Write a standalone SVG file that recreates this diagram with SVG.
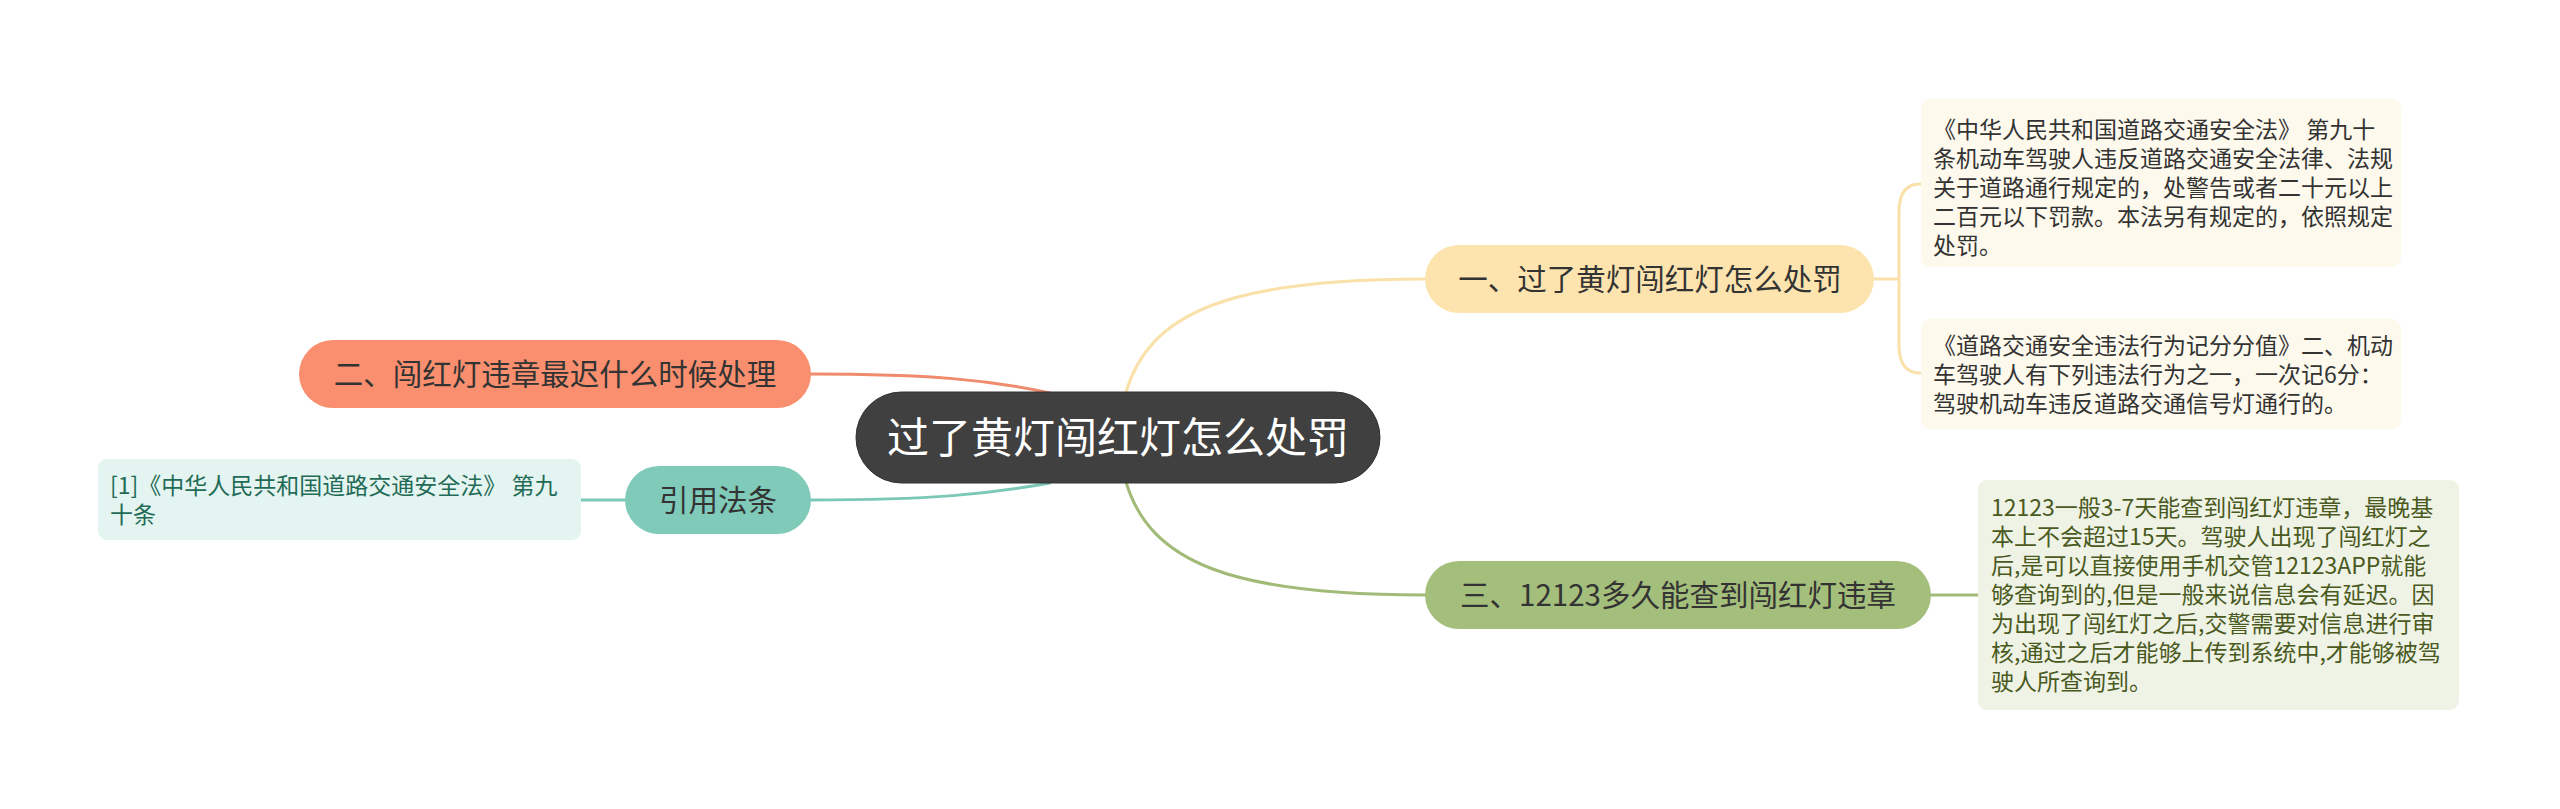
<svg xmlns="http://www.w3.org/2000/svg" width="2560" height="809" viewBox="0 0 2560 809">
<style>
text{font-family:"Noto Sans CJK SC","Noto Sans",sans-serif;}
.conn{fill:none;stroke-width:3;stroke-linecap:round;}
.y{stroke:#FAE1AA;}
.s{stroke:#F08B6D;}
.t{stroke:#7CC8B7;}
.g{stroke:#A2BA77;}
.main{font-size:29.5px;fill:#333;text-anchor:middle;}
.leaf{font-size:23px;}
</style>
<rect width="2560" height="809" fill="#FFFFFF"/>
<g id="connectors">
<path class="conn y" d="M1126,392 C1150,312 1230,279 1425,279"/>
<path class="conn g" d="M1126,482 C1150,562 1230,595 1425,595"/>
<path class="conn s" d="M811,374 C930,374 990,380 1050,393"/>
<path class="conn t" d="M811,500 C930,500 990,494 1050,483"/>
<path class="conn y" d="M1874,279 L1899,279"/>
<path class="conn y" d="M1920,184 C1906,184 1899,194 1899,212 L1899,345 C1899,363 1906,373 1920,373"/>
<path class="conn g" d="M1931,595 L1978,595"/>
<path class="conn t" d="M625,500 L581,500"/>
</g>
<g id="root">
<rect x="856" y="392" width="524" height="91" rx="45.5" fill="#404040" stroke="#333" stroke-width="1"/>
<text x="1118" y="453" font-size="42" fill="#FFFFFF" text-anchor="middle">过了黄灯闯红灯怎么处罚</text>
</g>
<g id="n1">
<rect x="1425" y="245" width="449" height="68" rx="34" fill="#FDE4AF"/>
<text class="main" x="1650" y="290">一、过了黄灯闯红灯怎么处罚</text>
</g>
<g id="n2">
<rect x="299" y="340" width="512" height="68" rx="34" fill="#F98F6E"/>
<text class="main" x="555" y="385">二、闯红灯违章最迟什么时候处理</text>
</g>
<g id="n-ref">
<rect x="625" y="466" width="186" height="68" rx="34" fill="#80CAB9"/>
<text class="main" x="718" y="511">引用法条</text>
</g>
<g id="n3">
<rect x="1425" y="561" width="506" height="68" rx="34" fill="#A4BE7B"/>
<text class="main" x="1678" y="606">三、12123多久能查到闯红灯违章</text>
</g>
<g id="leaf1">
<rect x="1921" y="99" width="480" height="168" rx="9" fill="#FDF9EC"/>
<text class="leaf" fill="#333">
<tspan x="1933" y="137.5">《中华人民共和国道路交通安全法》 第九十</tspan>
<tspan x="1933" y="166.5">条机动车驾驶人违反道路交通安全法律、法规</tspan>
<tspan x="1933" y="195.5">关于道路通行规定的，处警告或者二十元以上</tspan>
<tspan x="1933" y="224.5">二百元以下罚款。本法另有规定的，依照规定</tspan>
<tspan x="1933" y="253.5">处罚。</tspan>
</text>
</g>
<g id="leaf2">
<rect x="1921" y="319" width="480" height="110" rx="9" fill="#FDF9EC"/>
<text class="leaf" fill="#333">
<tspan x="1933" y="353.5">《道路交通安全违法行为记分分值》二、机动</tspan>
<tspan x="1933" y="382.5">车驾驶人有下列违法行为之一，一次记6分：</tspan>
<tspan x="1933" y="411.5">驾驶机动车违反道路交通信号灯通行的。</tspan>
</text>
</g>
<g id="leaf3">
<rect x="1978" y="480" width="481" height="230" rx="9" fill="#EFF3E6"/>
<text class="leaf" fill="#4A5A1E">
<tspan x="1991" y="515.5">12123一般3-7天能查到闯红灯违章，最晚基</tspan>
<tspan x="1991" y="544.5">本上不会超过15天。驾驶人出现了闯红灯之</tspan>
<tspan x="1991" y="573.5">后,是可以直接使用手机交管12123APP就能</tspan>
<tspan x="1991" y="602.5">够查询到的,但是一般来说信息会有延迟。因</tspan>
<tspan x="1991" y="631.5">为出现了闯红灯之后,交警需要对信息进行审</tspan>
<tspan x="1991" y="660.5">核,通过之后才能够上传到系统中,才能够被驾</tspan>
<tspan x="1991" y="689.5">驶人所查询到。</tspan>
</text>
</g>
<g id="leaf-ref">
<rect x="98" y="459" width="483" height="81" rx="9" fill="#E4F4F0"/>
<text class="leaf" fill="#1F6B57">
<tspan x="110" y="493.5">[1]《中华人民共和国道路交通安全法》 第九</tspan>
<tspan x="110" y="522.5">十条</tspan>
</text>
</g>
</svg>
